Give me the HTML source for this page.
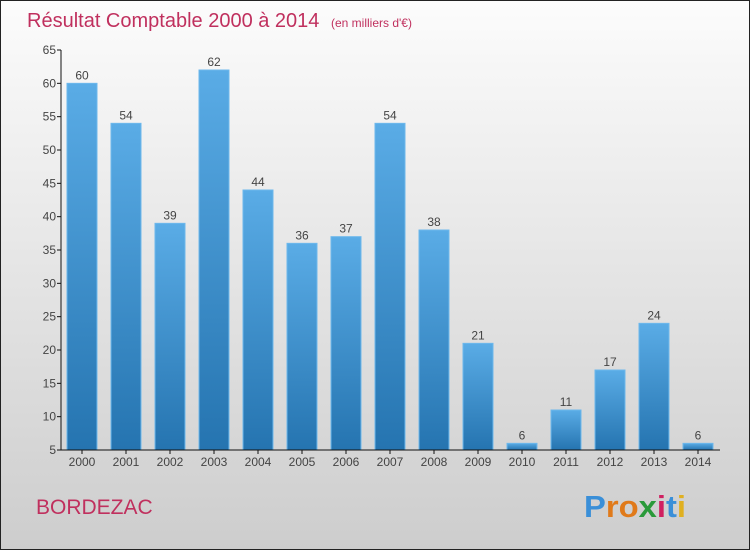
<!DOCTYPE html>
<html><head><meta charset="utf-8"><style>
body{margin:0;width:750px;height:550px;overflow:hidden}
svg{display:block;font-family:"Liberation Sans",sans-serif}
</style></head><body>
<svg width="750" height="550" viewBox="0 0 750 550">
<defs>
<linearGradient id="bg" x1="0" y1="0" x2="0" y2="1"><stop offset="0" stop-color="#fcfcfc"/><stop offset="1" stop-color="#cdcdcd"/></linearGradient>
<linearGradient id="bar" x1="0" y1="0" x2="0" y2="1"><stop offset="0" stop-color="#5aace6"/><stop offset="1" stop-color="#2574b0"/></linearGradient>
</defs>
<rect x="0.5" y="0.5" width="749" height="549" fill="url(#bg)" stroke="#222"/>
<text x="27" y="27" font-size="20" fill="#c0305e">Résultat Comptable 2000 à 2014 <tspan font-size="12" dx="6">(en milliers d'€)</tspan></text>
<g id="yaxis"></g>
<g id="bars"></g>
<g id="xaxis"></g>
<text x="36" y="514" font-size="21" fill="#c0305e">BORDEZAC</text>
<g font-size="31" font-weight="bold">
<text x="584" y="517" textLength="102" lengthAdjust="spacingAndGlyphs"><tspan fill="#3a8fd8">P</tspan><tspan fill="#e07a1a">r</tspan><tspan fill="#e07a1a">o</tspan><tspan fill="#2a9a3a">x</tspan><tspan fill="#d02060">i</tspan><tspan fill="#3a8fd8">t</tspan><tspan fill="#e0b020">i</tspan></text>
</g>
</svg>
<script>
const years=["2000","2001","2002","2003","2004","2005","2006","2007","2008","2009","2010","2011","2012","2013","2014"];
const values=[60,54,39,62,44,36,37,54,38,21,6,11,17,24,6];
const yTicks=[5,10,15,20,25,30,35,40,45,50,55,60,65];
const NS="http://www.w3.org/2000/svg";
const y0=450,y1=50,vmin=5,vmax=65;
const ys=v=>y0-(v-vmin)/(vmax-vmin)*(y0-y1);
const xs=i=>82+i*44;
function mk(t,a,p,txt){const e=document.createElementNS(NS,t);for(const k in a)e.setAttribute(k,a[k]);if(txt!==undefined)e.textContent=txt;p.appendChild(e);return e;}
const ya=document.getElementById('yaxis'),ba=document.getElementById('bars'),xa=document.getElementById('xaxis');
const yl=mk('line',{x1:61,y1:ys(65),x2:61,y2:y0,stroke:'#111'},ya);


yTicks.forEach(v=>{
 const t=mk('line',{x1:57,x2:61,y1:ys(v),y2:ys(v),stroke:'#111'},ya);
 
 
 const l=mk('text',{x:56,y:ys(v)+4,'text-anchor':'end','font-size':12,fill:'#444'},ya,v);
 
 
});
values.forEach((v,i)=>{
 const r=mk('rect',{x:xs(i)-15,y:ys(v),width:30,height:y0-ys(v),fill:'url(#bar)',stroke:'#6db8ec','stroke-width':1},ba);
 
 
 const l=mk('text',{x:xs(i),y:ys(v)-4,'text-anchor':'middle','font-size':12,fill:'#444'},ba,v);
 
 
});
const xl=mk('line',{x1:61,y1:y0,x2:720,y2:y0,stroke:'#111'},xa);


years.forEach((y,i)=>{
 const t=mk('line',{x1:xs(i),x2:xs(i),y1:y0,y2:y0+4,stroke:'#111'},xa);
 
 
 const l=mk('text',{x:xs(i),y:y0+16,'text-anchor':'middle','font-size':12,fill:'#444'},xa,y);
 
 
});
</script>
</body></html>
